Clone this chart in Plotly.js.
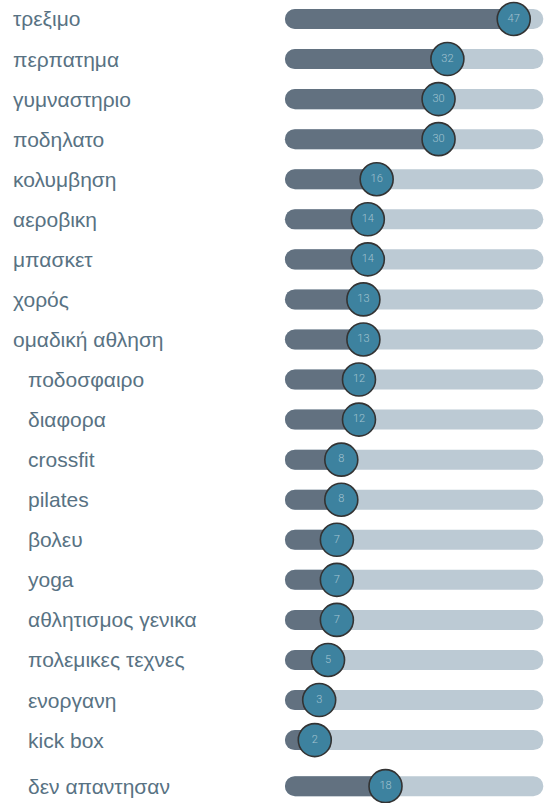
<!DOCTYPE html>
<html>
<head>
<meta charset="utf-8">
<script src="https://cdn.plot.ly/plotly-3.0.1.min.js"></script>
<style>html,body{margin:0;padding:0;background:#fff;}#chart{width:544px;height:803px;}</style>
</head>
<body>
<div id="chart"></div>
<script>
const categories = ["τρεξιμο","περπατημα","γυμναστηριο","ποδηλατο","κολυμβηση","αεροβικη","μπασκετ","χορός","ομαδική αθληση","ποδοσφαιρο","διαφορα","crossfit","pilates","βολευ","yoga","αθλητισμος γενικα","πολεμικες τεχνες","ενοργανη","kick box","δεν απαντησαν"];
const values = [47,32,30,30,16,14,14,13,13,12,12,8,8,7,7,7,5,3,2,18];

const n = categories.length;
const yPos = categories.map((c, i) => i === n - 1 ? i + 0.15 : i);
const trackStart = -4.75;
const trackEnd = 53.7;

const track = {
  type: 'bar', orientation: 'h',
  y: yPos, x: yPos.map(() => trackEnd - trackStart), base: yPos.map(() => trackStart),
  width: 0.5, marker: {color: '#bccad4', line: {width: 0}},
  hoverinfo: 'skip', showlegend: false
};
const fill = {
  type: 'bar', orientation: 'h',
  y: yPos, x: values.map(v => v - trackStart), base: values.map(() => trackStart),
  width: 0.5, marker: {color: '#627180', line: {width: 0}},
  hoverinfo: 'skip', showlegend: false
};
const dots = {
  type: 'scatter', mode: 'markers+text',
  y: yPos, x: values, text: values.map(String),
  textposition: 'middle center',
  textfont: {family: 'Roboto', size: 11, color: '#a3c2d0', weight: 300},
  marker: {size: 33, color: '#3d829f', line: {color: '#333333', width: 1.6}},
  cliponaxis: false, hoverinfo: 'skip', showlegend: false
};

const annotations = categories.map((c, i) => ({
  xref: 'paper', yref: 'y', x: (i >= 9 ? 25.5 : 11) / 544, y: yPos[i],
  xanchor: 'left', yanchor: 'middle', text: c, showarrow: false,
  font: {family: 'Liberation Sans, Arial, sans-serif', size: 21, color: '#587283'}
}));

const layout = {
  width: 544, height: 803,
  margin: {l: 0, r: 0, t: 0, b: 0},
  paper_bgcolor: '#ffffff', plot_bgcolor: '#ffffff',
  barmode: 'overlay', barcornerradius: 10,
  xaxis: {range: [-69.2, 53.85], visible: false, fixedrange: true},
  yaxis: {range: [19.57, -0.474], visible: false, fixedrange: true},
  annotations: annotations,
  showlegend: false
};

Plotly.newPlot('chart', [track, fill, dots], layout, {displayModeBar: false, staticPlot: true});
</script>
</body>
</html>
